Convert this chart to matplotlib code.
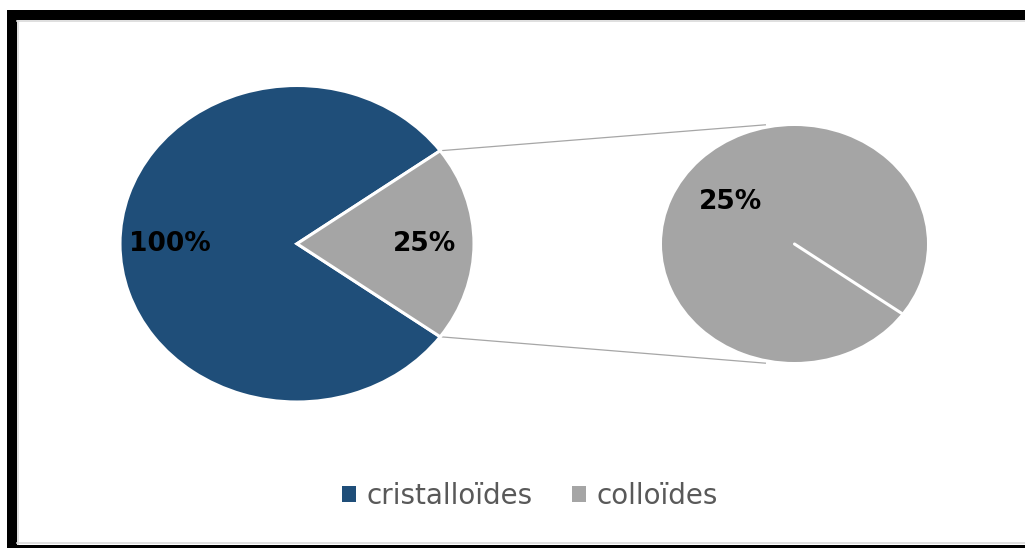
import numpy as np
import matplotlib
matplotlib.use("Agg")
import matplotlib.pyplot as plt
from matplotlib.patches import Rectangle

# fluid types and their shares
categories = ["cristalloïdes", "colloïdes"]
values = [100, 25]
colors = ["#1f4e79", "#a5a5a5"]

W, H = 1025, 548
fig = plt.figure(figsize=(W / 100, H / 100), dpi=100)

# frame drawn in pixel space
bg = fig.add_axes([0, 0, 1, 1], zorder=0)
bg.set_xlim(0, W)
bg.set_ylim(H, 0)
bg.axis("off")
bg.add_patch(Rectangle((7, 10), W - 7, 9.5, color="black", lw=0))
bg.add_patch(Rectangle((7, 10), 9.5, H - 10, color="black", lw=0))
bg.add_patch(Rectangle((7, 544.5), W - 7, 4, color="black", lw=0))
bg.plot([17, W], [20.5, 20.5], color="#d9d9d9", lw=1.2)
bg.plot([17.5, 17.5], [20.5, 543.5], color="#d9d9d9", lw=1.2)
bg.plot([17, W], [543, 543], color="#d9d9d9", lw=1.2)


def pix_axes(x0, y0, x1, y1):
    ax = fig.add_axes([x0 / W, 1 - y1 / H, (x1 - x0) / W, (y1 - y0) / H], zorder=2)
    ax.set_xlim(-1, 1)
    ax.set_ylim(-1, 1)
    return ax


label_font = dict(fontsize=19, fontweight="bold", color="black", family="DejaVu Sans")

# main pie
half = values[1] / sum(values) * 180
ax1 = pix_axes(120, 85.5, 474, 402)
wedges, texts = ax1.pie(values, colors=colors, startangle=half,
                        labels=[f"{v}%" for v in values], labeldistance=0.72,
                        wedgeprops=dict(edgecolor="white", linewidth=2.2),
                        textprops=label_font)
for t in texts:
    t.set_ha("center")
    t.set_va("center")
ax1.set_aspect("auto")
ax1.set_xlim(-1, 1)
ax1.set_ylim(-1, 1)
ax1.axis("off")

# secondary pie showing the colloïdes part
ax2 = pix_axes(662, 126, 927, 362)
w2, t2 = ax2.pie([values[1]], colors=[colors[1]], startangle=-half,
                 labels=[f"{values[1]}%"], labeldistance=0.6,
                 wedgeprops=dict(edgecolor="none"), textprops=label_font)
for t in t2:
    t.set_ha("center")
    t.set_va("center")
a = np.deg2rad(-half)
ax2.plot([0, np.cos(a)], [0, np.sin(a)], color="white", lw=2.2,
         solid_capstyle="round")
ax2.set_aspect("auto")
ax2.set_xlim(-1, 1)
ax2.set_ylim(-1, 1)
ax2.axis("off")

# connector lines between the two pies, mapped into the pixel-space axes
to_bg = bg.transData.inverted()
r = np.deg2rad(half)
for s in (1, -1):
    p1 = to_bg.transform(ax1.transData.transform((np.cos(r), s * np.sin(r))))
    p2 = to_bg.transform(ax2.transData.transform((-0.22, s * 1.01)))
    bg.plot([p1[0], p2[0]], [p1[1], p2[1]], color="#a6a6a6", lw=0.9)

leg = fig.legend(wedges, categories, loc="center", ncol=2, frameon=False,
                 bbox_to_anchor=(530 / W, 1 - 496 / H),
                 prop=dict(family="DejaVu Sans", size=20),
                 handlelength=0.5, handleheight=0.48, handletextpad=0.4,
                 columnspacing=1.4, borderpad=0)
for t in leg.get_texts():
    t.set_color("#595959")
for h in leg.legend_handles:
    h.set_edgecolor("none")

fig.savefig("out.png", dpi=100)
